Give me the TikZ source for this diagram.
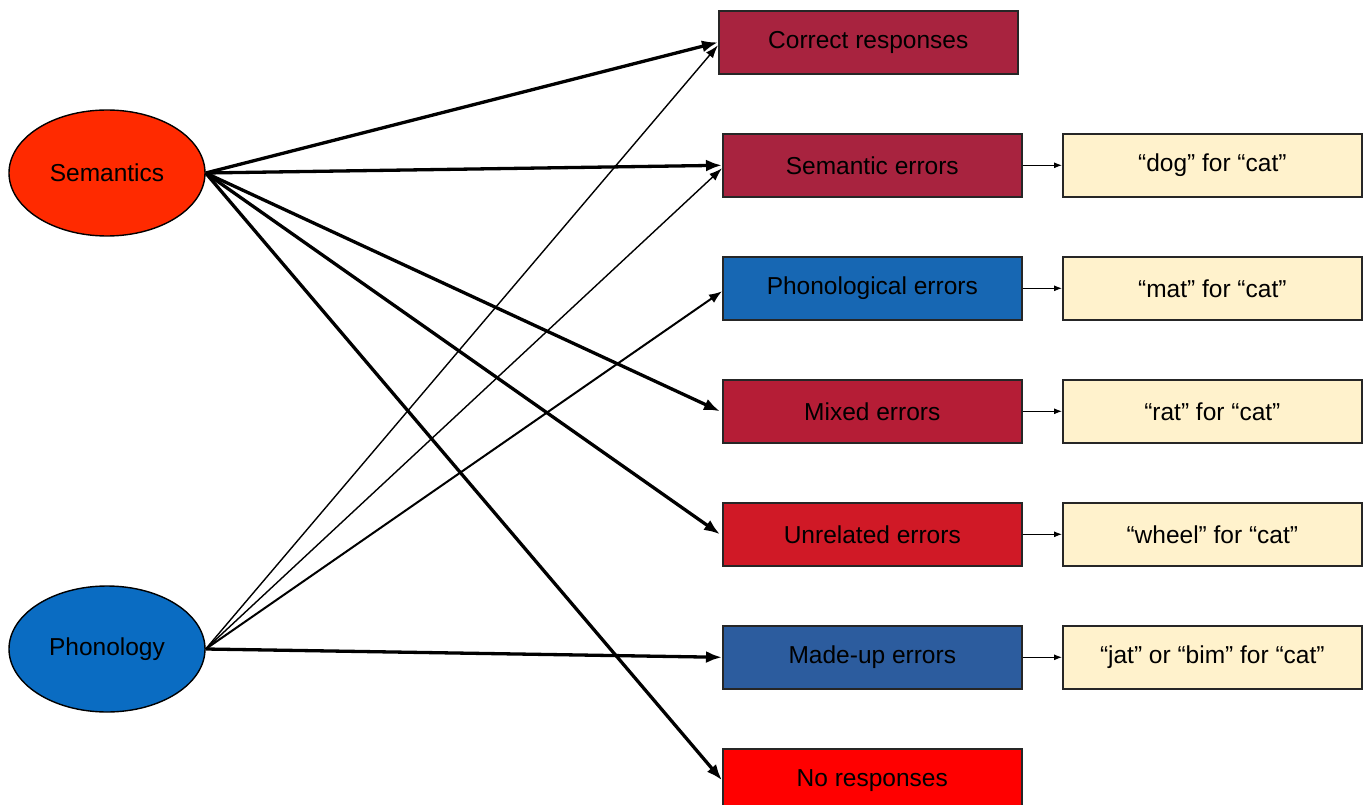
\documentclass[tikz,border=0pt]{standalone}
\usepackage{fontspec}
\setmainfont{Liberation Sans}
\usetikzlibrary{arrows.meta,shapes.geometric}
\definecolor{crim}{HTML}{A8233F}
\definecolor{crim2}{HTML}{B51D36}
\definecolor{unrel}{HTML}{D01926}
\definecolor{phblue}{HTML}{1767B3}
\definecolor{mublue}{HTML}{2C5C9E}
\definecolor{nored}{HTML}{FF0000}
\definecolor{semred}{HTML}{FF2A00}
\definecolor{phonblue}{HTML}{0A6CC2}
\definecolor{cream}{HTML}{FFF2CC}
\tikzset{
  catbox/.style={draw=black!85, line width=1.6pt, minimum width=299pt, minimum height=63pt, inner sep=0pt, font=\fontsize{24.5}{28}\selectfont, anchor=north west},
  exbox/.style={catbox, fill=cream},
  src/.style={ellipse, draw=black, line width=1.4pt, minimum width=196pt, minimum height=126pt, inner sep=0pt, font=\fontsize{24.5}{28}\selectfont},
  thickarr/.style={line width=3.3pt, -{Latex[length=16pt,width=12pt]}},
  thinarr/.style={line width=1.4pt, -{Latex[length=13pt,width=9pt]}},
  medarr/.style={line width=2pt, -{Latex[length=13pt,width=10pt]}},
  smallarr/.style={line width=1pt, -{Latex[length=8pt,width=6pt]}},
}
\begin{document}
\begin{tikzpicture}[x=1pt,y=-1pt]
\useasboundingbox (0,0) rectangle (1370,805);
\node[src, fill=semred] (sem) at (107,173) {Semantics};
\node[src, fill=phonblue] (pho) at (107,649) {Phonology};
\node[catbox, fill=crim] (corr) at (718,10) {Correct responses};
\node[catbox, fill=crim] (semerr) at (722,133) {Semantic errors};
\node[catbox, fill=phblue] (phoerr) at (722,256) {Phonological errors};
\node[catbox, fill=crim2] (mix) at (722,379) {Mixed errors};
\node[catbox, fill=unrel] (unr) at (722,502) {Unrelated errors};
\node[catbox, fill=mublue] (mad) at (722,625) {Made-up errors};
\node[catbox, fill=nored] (nor) at (722,748) {No responses};
\node[exbox] (ex1) at (1062,133) {“dog” for “cat”};
\node[exbox] (ex2) at (1062,256) {“mat” for “cat”};
\node[exbox] (ex3) at (1062,379) {“rat” for “cat”};
\node[exbox] (ex4) at (1062,502) {“wheel” for “cat”};
\node[exbox] (ex5) at (1062,625) {“jat” or “bim” for “cat”};
\draw[thinarr] (pho.east) -- ([yshift=-3pt]corr.west);
\draw[thinarr] (pho.east) -- ([yshift=-3pt]semerr.west);
\draw[medarr] (pho.east) -- ([yshift=-3pt]phoerr.west);
\draw[thickarr] (pho.east) -- (mad.west);
\draw[thickarr] (sem.east) -- (corr.west);
\draw[thickarr] (sem.east) -- (semerr.west);
\draw[thickarr] (sem.east) -- ([xshift=-2pt]mix.west);
\draw[thickarr] (sem.east) -- ([xshift=-2pt]unr.west);
\draw[thickarr] (sem.east) -- (nor.west);
\draw[smallarr] (semerr.east) -- (ex1.west);
\draw[smallarr] (phoerr.east) -- (ex2.west);
\draw[smallarr] (mix.east) -- (ex3.west);
\draw[smallarr] (unr.east) -- (ex4.west);
\draw[smallarr] (mad.east) -- (ex5.west);
\end{tikzpicture}
\end{document}
